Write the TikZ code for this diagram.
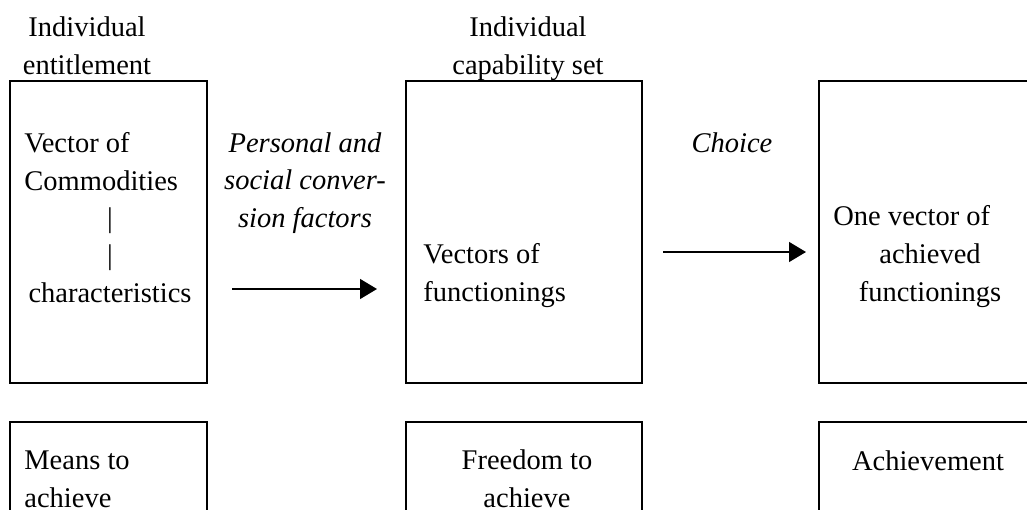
\documentclass[tikz,border=0pt]{standalone}
\usepackage{fontspec}
\setmainfont{Liberation Serif}
\usetikzlibrary{arrows.meta}
\tikzset{
  box/.style={draw, line width=0.7pt, inner sep=0pt, outer sep=0pt, anchor=north west},
  txt/.style={inner sep=0pt, font=\fontsize{14.25pt}{18.75pt}\selectfont},
  flow/.style={line width=0.65pt, -{Triangle[length=8.5pt,width=10pt]}}
}
\begin{document}
\begin{tikzpicture}[x=0.5pt, y=-0.5pt]
      \useasboundingbox (0,0) rectangle (1027,509);
      \node[box, minimum width=98.5pt, minimum height=151pt] (ent) at (10,81) {};
      \node[box, minimum width=118pt, minimum height=151pt] (cap) at (406,81) {};
      \node[box, minimum width=130pt, minimum height=151pt] (ach) at (819,81) {};
      \node[box, minimum width=98.5pt, minimum height=75pt] (means) at (10,422) {};
      \node[box, minimum width=118pt, minimum height=75pt] (free) at (406,422) {};
      \node[box, minimum width=130pt, minimum height=75pt] (achv) at (819,422) {};
      \draw
        (87,74) node[txt, anchor=base, align=center] (enttitle) {Individual\\entitlement}
        (528,74) node[txt, anchor=base, align=center] (captitle) {Individual\\capability set}
        (24,190) node[txt, anchor=base west, align=left] (vec) {Vector of\\Commodities}
        (110,302) node[txt, anchor=base, align=center] (chars) {|\\|\\characteristics}
        (305,227) node[txt, anchor=base, align=center, font=\fontsize{14.25pt}{18.75pt}\selectfont\itshape] (conv) {Personal and\\social conver-\\sion factors}
        (732,152) node[txt, anchor=base, font=\fontsize{14.25pt}{18.75pt}\selectfont\itshape] (choice) {Choice}
        (423,301) node[txt, anchor=base west, align=left] (funcs) {Vectors of\\functionings}
        (833,225) node[txt, anchor=base west] (onevec) {One vector of}
        (930,301) node[txt, anchor=base, align=center] (achfun) {achieved\\functionings}
        (24,507) node[txt, anchor=base west, align=left] (meanstxt) {Means to\\achieve}
        (527,507) node[txt, anchor=base, align=center] (freetxt) {Freedom to\\achieve}
        (928,470) node[txt, anchor=base] (achvtxt) {Achievement};
      \coordinate (a1) at (232,289);
      \coordinate (b1) at (377,289);
      \coordinate (a2) at (663,252);
      \coordinate (b2) at (806,252);
      \begin{scope}[flow]
        \draw (a1) to (b1);
        \draw (a2) to (b2);
      \end{scope}
    \end{tikzpicture}
\end{document}
